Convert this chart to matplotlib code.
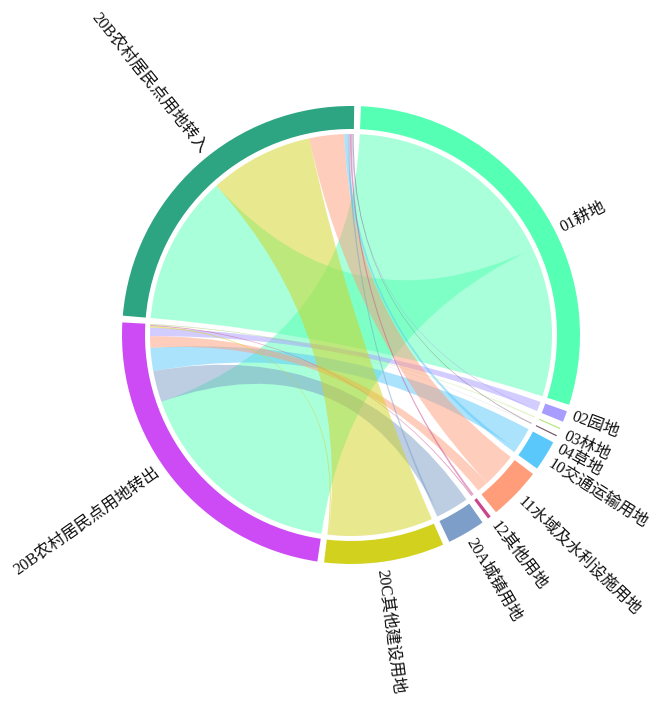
import numpy as np
import matplotlib
matplotlib.use('Agg')
import matplotlib.pyplot as plt
from matplotlib.path import Path
from matplotlib.patches import PathPatch, Wedge

plt.rcParams['font.family'] = ['Liberation Serif', 'Noto Sans CJK SC', 'DejaVu Sans']

categories = ['01耕地', '02园地', '03林地', '04草地', '10交通运输用地',
              '11水域及水利设施用地', '12其他用地', '20A城镇用地', '20C其他建设用地',
              '20B农村居民点用地转出', '20B农村居民点用地转入']
colors = ['#55ffb4', '#a99cff', '#b4e678', '#6e5064', '#5ac8fa', '#ff9c7a',
          '#c8468c', '#7d9ec8', '#d2d21e', '#cd4bf5', '#2da582']
# flows from 20B (转出) to each land type (first nine categories)
out_values = [62.0, 2.5, 0.25, 0.05, 6.7, 3.3, 0.3, 9.0, 0.4]
# flows from each land type into 20B (转入)
in_values = [43.0, 0.3, 0.05, 0.25, 1.0, 10.0, 0.55, 0.6, 30.0]

n = len(categories)
OUT, IN = 9, 10
M = np.zeros((n, n))
for i in range(9):
    M[i, OUT] = M[OUT, i] = out_values[i]
    M[i, IN] = M[IN, i] = in_values[i]

W, H = 650, 704
cx, cy = 351, H - 335
R_out, ring_w, r_chord = 229, 23, 201
pad = 1.7
start = 1.65 + pad / 2

totals = M.sum(axis=1)
k = (360 - n * pad) / totals.sum()

groups = []
sub = {}
a = start
for i in range(n):
    g0 = a
    order = sorted(range(n), key=lambda j: (-M[i, j], j))
    for j in order:
        if M[i, j] > 0:
            sub[(i, j)] = (a, a + M[i, j] * k)
            a += M[i, j] * k
    groups.append((g0, a))
    a += pad


def pt(theta, r):
    t = np.radians(theta)
    return (cx + r * np.sin(t), cy + r * np.cos(t))


def arc(t0, t1, r, num=60):
    ts = np.linspace(t0, t1, num)
    return [pt(t, r) for t in ts]


fig = plt.figure(figsize=(W / 100, H / 100), dpi=100)
ax = fig.add_axes([0, 0, 1, 1])
ax.set_xlim(0, W)
ax.set_ylim(0, H)
ax.set_aspect('equal')
ax.axis('off')

# ribbons
for i in range(n):
    for j in range(i + 1, n):
        if M[i, j] <= 0:
            continue
        s0, s1 = sub[(i, j)]
        t0, t1 = sub[(j, i)]
        verts, codes = [], []
        sa = arc(s0, s1, r_chord)
        verts += sa
        codes += [Path.MOVETO] + [Path.LINETO] * (len(sa) - 1)
        verts += [(cx, cy), pt(t0, r_chord)]
        codes += [Path.CURVE3, Path.CURVE3]
        ta = arc(t0, t1, r_chord)
        verts += ta[1:]
        codes += [Path.LINETO] * (len(ta) - 1)
        verts += [(cx, cy), pt(s0, r_chord)]
        codes += [Path.CURVE3, Path.CURVE3]
        verts.append(pt(s0, r_chord))
        codes.append(Path.CLOSEPOLY)
        ax.add_patch(PathPatch(Path(verts, codes), facecolor=colors[i],
                               edgecolor='none', alpha=0.5, zorder=2))

# small angular nudges for label placement
label_nudge = {0: 8.0, 1: -0.6, 2: 1.0, 3: 2.6, 4: 0.8, 8: 1.0, 9: 4.0, 10: 3.5}

# group arcs and labels
for i, (g0, g1) in enumerate(groups):
    ax.add_patch(Wedge((cx, cy), R_out, 90 - g1, 90 - g0, width=ring_w,
                       facecolor=colors[i], edgecolor='none', zorder=3))
    mid = (g0 + g1) / 2 + label_nudge.get(i, 0)
    x, y = pt(mid, R_out + 7)
    if mid < 180:
        rot, ha = 90 - mid, 'left'
    else:
        rot, ha = 270 - mid, 'right'
    ax.text(x, y, categories[i], rotation=rot, ha=ha, va='center',
            rotation_mode='anchor', fontsize=11.8, color='#111111', zorder=4)

fig.savefig('out.png', dpi=100)
